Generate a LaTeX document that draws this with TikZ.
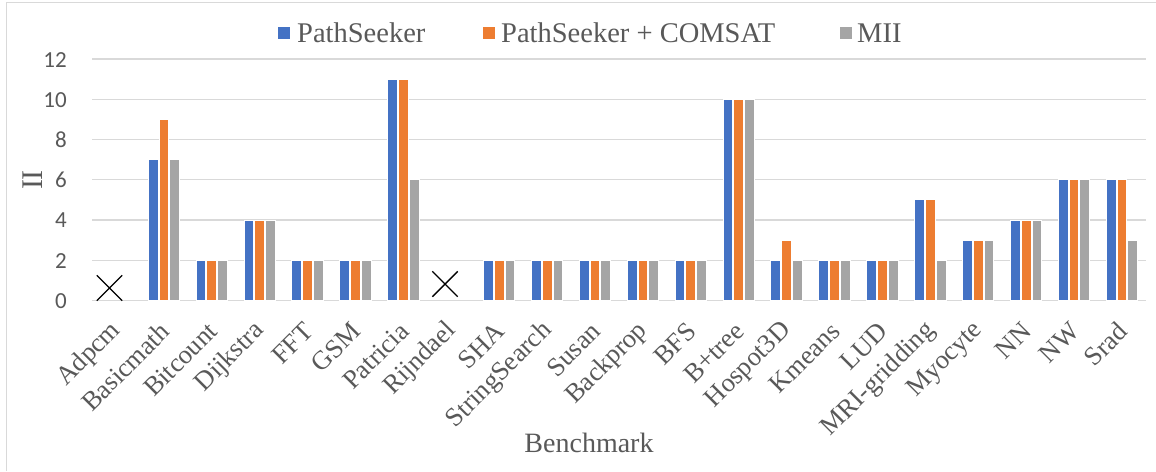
\documentclass[tikz,border=0pt]{standalone}
\usepackage{fontspec}
\setmainfont{Liberation Serif}
\newfontfamily\carlito{Carlito}
\usetikzlibrary{shapes.misc}
\definecolor{cblue}{HTML}{4472C4}
\definecolor{corange}{HTML}{ED7D31}
\definecolor{cgray}{HTML}{A5A5A5}
\definecolor{gridc}{HTML}{D9D9D9}
\definecolor{txt}{HTML}{595959}
\begin{document}
\begin{tikzpicture}[x=1pt,y=-1pt,
  gridline/.style={draw=gridc,line width=1.2pt},
  bar/.style={draw=white,line width=0.9pt},
  ticklab/.style={anchor=east,inner sep=0pt,text=txt,font=\carlito\fontsize{23}{23}\selectfont},
  catlab/.style={anchor=east,rotate=45,inner sep=0pt,text=txt,font=\fontsize{26.5}{26.5}\selectfont},
  axlab/.style={text=txt,inner sep=0pt,font=\fontsize{28}{28}\selectfont},
  leglab/.style={anchor=west,inner sep=0pt,text=txt,font=\fontsize{28.5}{28.5}\selectfont},
  legsq/.style={minimum size=12pt,inner sep=0pt},
  nodata/.style={draw=black,cross out,line width=1.4pt,minimum size=24pt,inner sep=0pt}]
\useasboundingbox (0,0) rectangle (1156,471);
\fill[white] (0,0) rectangle (1156,471);
% chart frame
\draw[draw=gridc,line width=1.2pt] (6.5,471) -- (6.5,2.5) -- (1156,2.5);
% gridlines and tick labels
\foreach \v in {0,2,...,12}{
  \draw[gridline] (92,{300.5-20.12*\v}) -- (1146,{300.5-20.12*\v});
  \node[ticklab] (tick\v) at (67,{301-20.12*\v}) {\v};
}
% bars
\foreach \i/\a/\b/\c in {2/7/9/7,3/2/2/2,4/4/4/4,5/2/2/2,6/2/2/2,7/11/11/6,
  9/2/2/2,10/2/2/2,11/2/2/2,12/2/2/2,13/2/2/2,14/10/10/10,15/2/3/2,16/2/2/2,
  17/2/2/2,18/5/5/2,19/3/3/3,20/4/4/4,21/6/6/6,22/6/6/3}{
  \pgfmathsetmacro{\cx}{92+47.9*(\i-0.5)}
  \fill[cblue,bar] ({\cx-15.7},300.5) rectangle ({\cx-5.9},{300.5-20.12*\a});
  \fill[corange,bar] ({\cx-4.9},300.5) rectangle ({\cx+4.9},{300.5-20.12*\b});
  \fill[cgray,bar] ({\cx+5.9},300.5) rectangle ({\cx+15.7},{300.5-20.12*\c});
}
% missing data marks
\node[nodata] (xadpcm) at (109.5,288) {};
\node[nodata] (xrijndael) at (445,284) {};
% category labels
\foreach \n/\t in {1/Adpcm,2/Basicmath,3/Bitcount,4/Dijkstra,5/FFT,6/GSM,7/Patricia,
  8/Rijndael,9/SHA,10/StringSearch,11/Susan,12/Backprop,13/BFS,14/B+tree,15/Hospot3D,
  16/Kmeans,17/LUD,18/MRI-gridding,19/Myocyte,20/NN,21/NW,22/Srad}{
  \node[catlab] (cat\n) at ({92+47.9*(\n-0.5)+1},327) {\t};
}
% axis titles
\node[axlab] (xtitle) at (589,443) {Benchmark};
\node[axlab,rotate=90,font=\fontsize{30}{30}\selectfont] (ytitle) at (33,180) {II};
% legend
\node[legsq,fill=cblue] (sq1) at (283.5,33) {};
\node[leglab] (lg1) at (297,33) {PathSeeker};
\node[legsq,fill=corange] (sq2) at (488.5,33) {};
\node[leglab] (lg2) at (501,33) {PathSeeker + COMSAT};
\node[legsq,fill=cgray] (sq3) at (846,33) {};
\node[leglab] (lg3) at (857,33) {MII};
\end{tikzpicture}
\end{document}
